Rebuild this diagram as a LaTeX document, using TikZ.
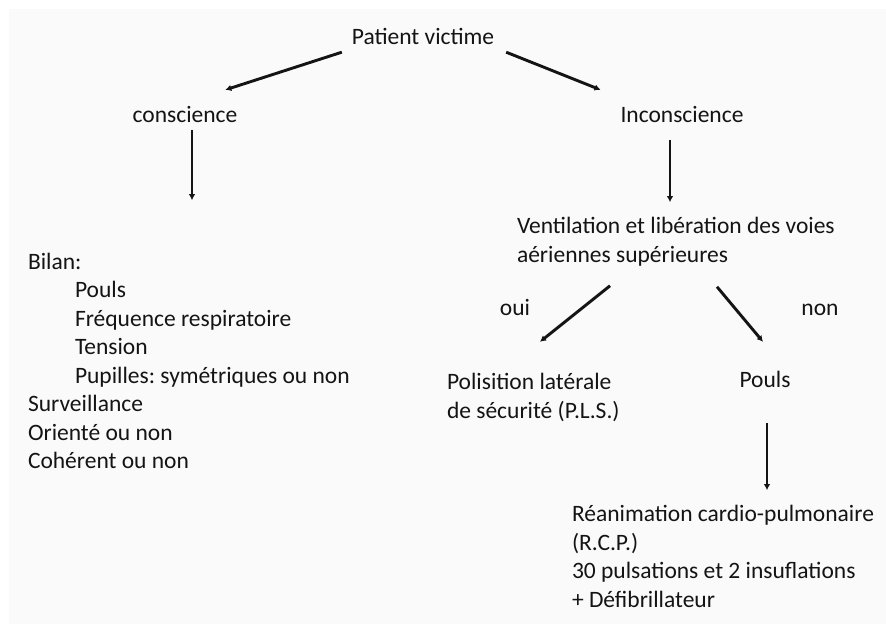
\documentclass[tikz,border=0pt]{standalone}
\usepackage{fontspec}
\setmainfont{Carlito}
\usetikzlibrary{arrows.meta,calc}
\definecolor{ink}{HTML}{141414}
\definecolor{panel}{HTML}{FAFAFA}
\frenchspacing
\begin{document}
\begin{tikzpicture}[x=1pt,y=-1pt,
  lbl/.style={inner sep=0pt,outer sep=0pt,text=ink,font=\fontsize{23.5}{28.5}\selectfont},
  arr/.style={draw=ink,line width=2.9pt,-{Latex[length=6pt,width=6.5pt]}}]
\useasboundingbox (0,0) rectangle (886,624);
\fill[panel] (9,9) rectangle (886,624);
% nodes (multi-line nodes: base anchor = baseline of last line)
\node[lbl,anchor=base] (pv) at (423,44) {Patient victime};
\node[lbl,anchor=base] (cs) at (185,122) {conscience};
\node[lbl,anchor=base] (ic) at (682,122) {Inconscience};
\node[lbl,anchor=base west,align=left] (bil) at (28,468.5)
  {Bilan:\\\hspace*{47pt}Pouls\\\hspace*{47pt}Fréquence respiratoire\\\hspace*{47pt}Tension\\\hspace*{47pt}Pupilles: symétriques ou non\\Surveillance\\Orienté ou non\\Cohérent ou non};
\node[lbl,anchor=base west,align=left] (vl) at (517,262)
  {Ventilation et libération des voies\\aériennes supérieures};
\node[lbl,anchor=base] (oui) at (515,315) {oui};
\node[lbl,anchor=base] (non) at (820,315) {non};
\node[lbl,anchor=base west,align=left] (pls) at (447,418)
  {Polisition latérale\\de sécurité (P.L.S.)};
\node[lbl,anchor=base] (po) at (765,387) {Pouls};
\node[lbl,anchor=base west,align=left] (rcp) at (572,607)
  {Réanimation cardio-pulmonaire\\(R.C.P.)\\30 pulsations et 2 insuflations\\+ Défibrillateur};
% connectors
\draw[arr] ($(pv.south west)+(-10,8)$) -- ($(cs.north east)+(-12,-16)$);
\draw[arr] ($(pv.south east)+(12,8)$) -- ($(ic.north west)+(-20,-16)$);
\draw[arr] ($(cs.south)+(7,8)$) -- ($(cs.south)+(7,78)$);
\draw[arr] ($(ic.south)+(-12,18)$) -- ($(ic.south)+(-12,80)$);
\draw[arr] ($(vl.south west)+(93,20)$) -- ($(vl.south west)+(23,76)$);
\draw[arr] ($(vl.south west)+(200,21)$) -- ($(vl.south west)+(246,76)$);
\draw[arr] ($(po.south)+(2,36)$) -- ($(po.south)+(2,103)$);
\end{tikzpicture}
\end{document}
